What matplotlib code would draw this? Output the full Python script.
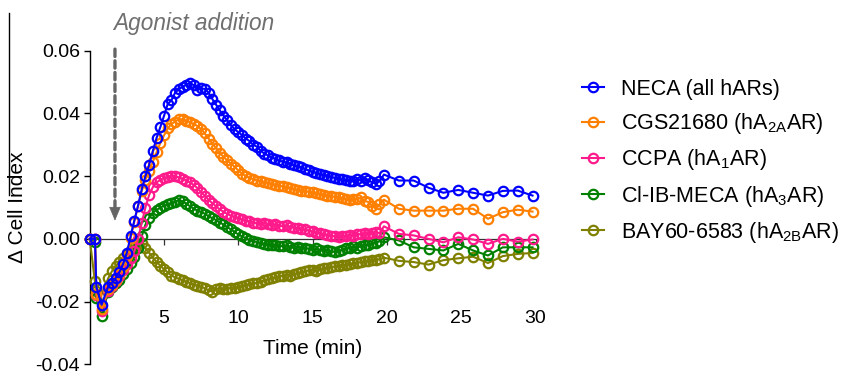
import numpy as np
import matplotlib
matplotlib.use("Agg")
import matplotlib.pyplot as plt
from matplotlib.lines import Line2D

plt.rcParams['font.family'] = ['Liberation Sans', 'DejaVu Sans']
plt.rcParams['mathtext.default'] = 'regular'

# ---------------- data ----------------
TIME_EARLY = [0.0, 0.35, 0.45, 0.8]
TIME_DENSE = list(np.arange(1.25, 19.51, 0.25))          # 15-s sweeps
TIME_LATE = [19.8, 20.8, 21.8, 22.8, 23.8, 24.8, 25.8, 26.8, 27.8, 28.8, 29.8]
time_min = np.array(TIME_EARLY + TIME_DENSE + TIME_LATE)

neca = [0.0, 0.0, -0.0153, -0.0210,
        -0.0152, -0.0140, -0.0125, -0.0106, -0.0080, -0.0045, 0.0008, 0.0058,
        0.0105, 0.0158, 0.0200, 0.0236, 0.0280, 0.0322, 0.0356, 0.0392,
        0.0430, 0.0442, 0.0466, 0.0478, 0.0485, 0.0492, 0.0498, 0.0490,
        0.0474, 0.0480, 0.0478, 0.0466, 0.0446, 0.0428, 0.0410, 0.0393,
        0.0378, 0.0362, 0.0350, 0.0340, 0.0331, 0.0320, 0.0312, 0.0300,
        0.0294, 0.0281, 0.0272, 0.0266, 0.0258, 0.0256, 0.0250, 0.0246,
        0.0244, 0.0240, 0.0234, 0.0231, 0.0228, 0.0222, 0.0218, 0.0214,
        0.0210, 0.0206, 0.0204, 0.0202, 0.0198, 0.0194, 0.0192, 0.0190,
        0.0188, 0.0185, 0.0184, 0.0192, 0.0186, 0.0194, 0.0188, 0.0180,
        0.0176, 0.0184,
        0.0205, 0.0186, 0.0186, 0.0163, 0.0147, 0.0156, 0.0147, 0.0138, 0.0153, 0.0154, 0.0138]

cgs21680 = [0.0, 0.0, -0.0175, -0.0225,
            -0.0160, -0.0146, -0.0131, -0.0112, -0.0090, -0.0056, 0.0002, 0.0055,
            0.0104, 0.0152, 0.0188, 0.0215, 0.0246, 0.0276, 0.0305, 0.0330,
            0.0352, 0.0366, 0.0374, 0.0382, 0.0381, 0.0377, 0.0372, 0.0366,
            0.0360, 0.0350, 0.0336, 0.0320, 0.0304, 0.0290, 0.0274, 0.0262,
            0.0250, 0.0240, 0.0230, 0.0218, 0.0208, 0.0200, 0.0195, 0.0190,
            0.0186, 0.0184, 0.0180, 0.0178, 0.0176, 0.0172, 0.0170, 0.0167,
            0.0164, 0.0162, 0.0158, 0.0156, 0.0154, 0.0152, 0.0150, 0.0148,
            0.0146, 0.0143, 0.0141, 0.0138, 0.0136, 0.0134, 0.0132, 0.0130,
            0.0126, 0.0124, 0.0128, 0.0126, 0.0132, 0.0120, 0.0118, 0.0106,
            0.0096, 0.0110,
            0.0125, 0.0096, 0.0090, 0.0090, 0.0090, 0.0096, 0.0096, 0.0064, 0.0085, 0.0093, 0.0087]

ccpa = [0.0, 0.0, -0.0180, -0.0230,
        -0.0165, -0.0150, -0.0135, -0.0120, -0.0100, -0.0080, -0.0062, -0.0040,
        0.0000, 0.0050, 0.0100, 0.0140, 0.0165, 0.0180, 0.0188, 0.0195,
        0.0198, 0.0202, 0.0200, 0.0196, 0.0192, 0.0186, 0.0180, 0.0172,
        0.0162, 0.0148, 0.0138, 0.0124, 0.0114, 0.0104, 0.0094, 0.0086,
        0.0080, 0.0074, 0.0070, 0.0066, 0.0062, 0.0058, 0.0056, 0.0052,
        0.0050, 0.0048, 0.0052, 0.0046, 0.0044, 0.0046, 0.0042, 0.0040,
        0.0044, 0.0038, 0.0036, 0.0034, 0.0032, 0.0030, 0.0026, 0.0024,
        0.0020, 0.0018, 0.0014, 0.0012, 0.0010, 0.0008, 0.0006, 0.0008,
        0.0010, 0.0012, 0.0010, 0.0016, 0.0014, 0.0018, 0.0016, 0.0020,
        0.0022, 0.0018,
        0.0040, 0.0016, 0.0011, 0.0000, -0.0011, 0.0005, -0.0002, -0.0016, 0.0000, -0.0009, -0.0002]

cl_ib_meca = [0.0, -0.0010, -0.0190, -0.0245,
              -0.0168, -0.0152, -0.0142, -0.0130, -0.0112, -0.0095, -0.0078, -0.0058,
              -0.0028, 0.0008, 0.0045, 0.0068, 0.0084, 0.0092, 0.0100, 0.0106,
              0.0110, 0.0115, 0.0118, 0.0124, 0.0120, 0.0112, 0.0104, 0.0096,
              0.0090, 0.0086, 0.0080, 0.0072, 0.0066, 0.0060, 0.0052, 0.0046,
              0.0038, 0.0030, 0.0022, 0.0014, 0.0008, 0.0002, -0.0004, -0.0008,
              -0.0010, -0.0014, -0.0016, -0.0018, -0.0020, -0.0018, -0.0022, -0.0024,
              -0.0020, -0.0026, -0.0028, -0.0025, -0.0030, -0.0028, -0.0032, -0.0034,
              -0.0030, -0.0036, -0.0038, -0.0036, -0.0040, -0.0042, -0.0040, -0.0034,
              -0.0030, -0.0028, -0.0024, -0.0030, -0.0022, -0.0018, -0.0020, -0.0014,
              -0.0012, -0.0008,
              0.0005, -0.0005, -0.0027, -0.0032, -0.0037, -0.0016, -0.0037, -0.0053, -0.0027, -0.0027, -0.0027]

bay60_6583 = [0.0, -0.0135, -0.0165, -0.0178,
              -0.0125, -0.0103, -0.0086, -0.0073, -0.0061, -0.0048, -0.0036, -0.0025,
              -0.0017, -0.0014, -0.0030, -0.0044, -0.0060, -0.0074, -0.0085, -0.0097,
              -0.0107, -0.0117, -0.0123, -0.0127, -0.0132, -0.0137, -0.0141, -0.0146,
              -0.0149, -0.0152, -0.0158, -0.0164, -0.0168, -0.0160, -0.0157, -0.0161,
              -0.0159, -0.0156, -0.0158, -0.0153, -0.0150, -0.0147, -0.0145, -0.0140,
              -0.0142, -0.0137, -0.0132, -0.0129, -0.0126, -0.0123, -0.0120, -0.0117,
              -0.0114, -0.0119, -0.0112, -0.0109, -0.0106, -0.0104, -0.0100, -0.0098,
              -0.0104, -0.0096, -0.0094, -0.0092, -0.0090, -0.0088, -0.0086, -0.0084,
              -0.0082, -0.0080, -0.0078, -0.0076, -0.0074, -0.0072, -0.0070, -0.0068,
              -0.0067, -0.0065,
              -0.0060, -0.0070, -0.0074, -0.0082, -0.0068, -0.0062, -0.0057, -0.0077, -0.0055, -0.0048, -0.0045]

series_labels = ["NECA (all hARs)",
                 "CGS21680 (hA$_{2A}$AR)",
                 "CCPA (hA$_{1}$AR)",
                 "Cl-IB-MECA (hA$_{3}$AR)",
                 "BAY60-6583 (hA$_{2B}$AR)"]
series_values = [neca, cgs21680, ccpa, cl_ib_meca, bay60_6583]
series_colors = ["#0000ff", "#ff8000", "#ff1a8c", "#008000", "#808000"]

y_ticks = [-0.04, -0.02, 0.00, 0.02, 0.04, 0.06]
y_tick_labels = ["-0.04", "-0.02", "0.00", "0.02", "0.04", "0.06"]
x_ticks = [5, 10, 15, 20, 25, 30]
x_tick_labels = ["5", "10", "15", "20", "25", "30"]

agonist_time = 1.7
annotation_text = "Agonist addition"

# ---------------- figure ----------------
W, H = 842, 375
fig = plt.figure(figsize=(W / 100, H / 100), dpi=100)
ax = fig.add_axes([89.7 / W, 1 - 364.3 / H, 445.8 / W, 313.6 / H])
ax.set_xlim(0, 30)
ax.set_ylim(-0.04, 0.06)

# plot back-to-front so NECA is on top
handles = {}
for lab, vals, col in reversed(list(zip(series_labels, series_values, series_colors))):
    h, = ax.plot(time_min, vals, color=col, lw=1.5, marker='o', ms=6.8,
                 mfc='none', mec=col, mew=1.6, clip_on=False, zorder=3)
    handles[lab] = h

for s in ['top', 'right']:
    ax.spines[s].set_visible(False)
ax.spines['left'].set_linewidth(1.0)
ax.spines['bottom'].set_position(('data', 0))
ax.spines['bottom'].set_linewidth(0.9)
ax.spines['bottom'].set_color('#333333')
ax.spines['bottom'].set_zorder(2)

ax.set_yticks(y_ticks)
ax.set_yticklabels(y_tick_labels)
ax.set_xticks(x_ticks)
ax.set_xticklabels(x_tick_labels)
ax.tick_params(axis='y', direction='out', length=4, width=1, pad=3, labelsize=14)
ax.tick_params(axis='x', direction='out', length=4, width=0.9, color='#333333',
               pad=47, labelsize=14)

ax.set_xlabel("Time (min)", fontsize=15)
ax.xaxis.set_label_coords(0.5, (364.3 - 339) / 313.6)
ax.set_ylabel("\u0394 Cell Index", fontsize=15)
ax.yaxis.set_label_coords((27 - 89.7) / 445.8, 0.5)

# agonist addition marker
ax.annotate('', xy=(agonist_time, 0.0095), xytext=(agonist_time, 0.0605),
            arrowprops=dict(arrowstyle='-', color='#656565', lw=2.4,
                            linestyle=(0, (2.2, 1.3)), shrinkA=0, shrinkB=0),
            annotation_clip=False)
ax.annotate('', xy=(agonist_time, 0.0058), xytext=(agonist_time, 0.0130),
            arrowprops=dict(arrowstyle='-|>,head_length=0.9,head_width=0.38',
                            color='#656565', lw=0.5, shrinkA=0, shrinkB=0),
            annotation_clip=False)
ax.text(1.55, 0.0688, annotation_text, fontsize=16.3, style='italic',
        color='#707070', ha='left', va='center', clip_on=False)

# legend
leg = fig.legend([handles[l] for l in series_labels], series_labels,
                 loc='upper left', bbox_to_anchor=(582 / W, 1 - 79 / H),
                 frameon=False, fontsize=15.5, handlelength=1.0,
                 handletextpad=0.8, labelspacing=0.52, borderpad=0,
                 borderaxespad=0)

# stray panel border line at far left
fig.add_artist(Line2D([9.3 / W, 9.3 / W], [1 - 13 / H, 1 - 195 / H],
                      transform=fig.transFigure, color='black', lw=1.0))

fig.savefig("out.png", dpi=100)
